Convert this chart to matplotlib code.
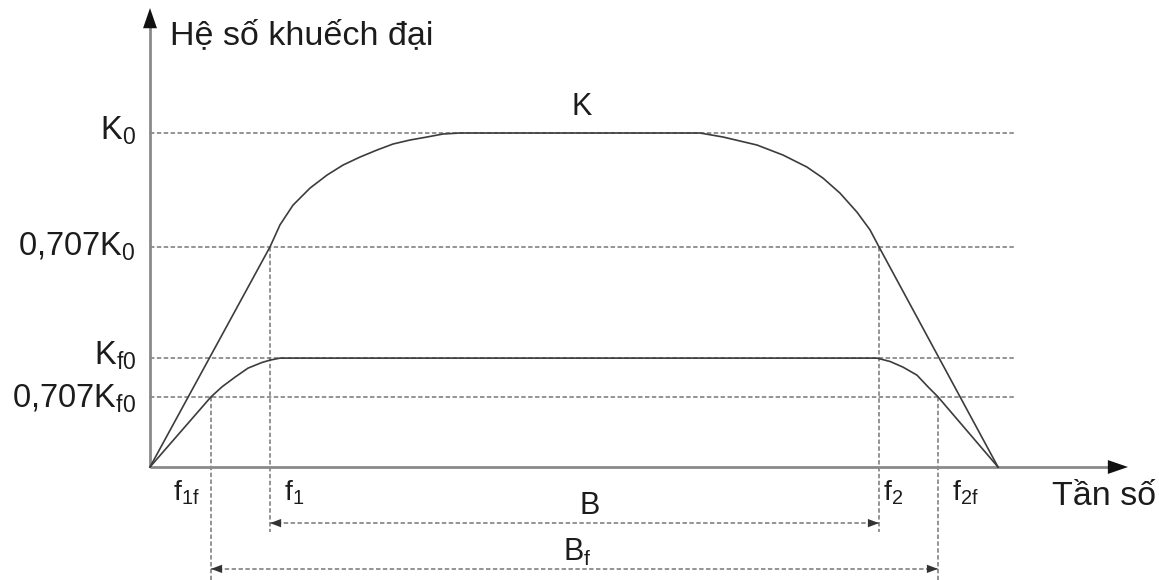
import matplotlib
matplotlib.use("Agg")
import matplotlib.pyplot as plt

plt.rcParams['font.family'] = ['Liberation Sans', 'DejaVu Sans']
plt.rcParams['mathtext.fontset'] = 'custom'
plt.rcParams['mathtext.rm'] = 'Liberation Sans'
plt.rcParams['mathtext.it'] = 'Liberation Sans'

# ---------------- data ----------------
# frequency marks (arbitrary units) and gain levels (K0 = 1)
freq_labels = [r'f$_{1f}$', r'f$_1$', r'f$_2$', r'f$_{2f}$']
freq_x = [0.61, 1.20, 7.29, 7.88]
f_end = 8.48

level_labels = [r'K$_0$', r'0,707K$_0$', r'K$_{f0}$', r'0,707K$_{f0}$']
level_y = [1.000, 0.659, 0.326, 0.210]

# response without feedback (K)
k_x = [0.00, 1.20, 1.30, 1.43, 1.60, 1.77, 1.93, 2.10, 2.27, 2.43, 2.60, 2.77,
       2.93, 3.10, 5.50, 5.73, 6.07, 6.33, 6.57, 6.73, 6.90, 7.07, 7.20, 7.29, 8.48]
k_y = [0.000, 0.659, 0.725, 0.784, 0.835, 0.874, 0.904, 0.928, 0.949, 0.967, 0.979, 0.988,
       0.997, 1.000, 1.000, 0.988, 0.964, 0.934, 0.898, 0.865, 0.820, 0.763, 0.710, 0.659, 0.000]

# response with feedback (Kf)
kf_x = [0.00, 0.61, 0.72, 0.85, 0.98, 1.12, 1.20, 1.30, 7.27, 7.40, 7.53, 7.67, 7.78, 7.88, 8.48]
kf_y = [0.000, 0.210, 0.240, 0.269, 0.296, 0.313, 0.320, 0.326, 0.326, 0.316, 0.299, 0.275,
        0.240, 0.210, 0.000]

# ---------------- figure ----------------
fig = plt.figure(figsize=(11.59, 5.80), dpi=100)
ax = fig.add_axes([0, 0, 1, 1])
ax.set_xlim(-1.50, 10.09)
ax.set_ylim(-0.3383, 1.3982)
ax.axis('off')

txt = '#1c1c1c'
dash_c = '#777777'
dash = (0, (2.9, 1.6))
curve_c = '#3c3c3c'
axis_c = '#8a8a8a'

y_top = 1.374
x_right = 9.78
row_B = -0.168
row_Bf = -0.305
y_bottom = -0.3383
dash_end = 8.65

# horizontal dashed level lines
for y in level_y:
    ax.plot([0, dash_end], [y, y], ls=dash, color=dash_c, lw=1.1, zorder=1)

# vertical dashed lines
ax.plot([freq_x[1], freq_x[1]], [level_y[1], row_B - 0.027], ls=dash, color=dash_c, lw=1.1, zorder=1)
ax.plot([freq_x[2], freq_x[2]], [level_y[1], row_B - 0.027], ls=dash, color=dash_c, lw=1.1, zorder=1)
ax.plot([freq_x[0], freq_x[0]], [level_y[3], y_bottom], ls=dash, color=dash_c, lw=1.1, zorder=1)
ax.plot([freq_x[3], freq_x[3]], [level_y[3], y_bottom], ls=dash, color=dash_c, lw=1.1, zorder=1)

# curves
ax.plot(k_x, k_y, color=curve_c, lw=1.2, zorder=3, solid_joinstyle='round')
ax.plot(kf_x, kf_y, color=curve_c, lw=1.2, zorder=3, solid_joinstyle='round')

# axes lines with arrowheads
ax.plot([0, 0], [0, y_top - 0.04], color=axis_c, lw=2.0, zorder=2, solid_capstyle='butt')
ax.plot([0, x_right - 0.1], [0, 0], color=axis_c, lw=2.0, zorder=2, solid_capstyle='butt')
head = dict(arrowstyle='-|>,head_length=1.45,head_width=0.5', color='#111111',
            lw=0, mutation_scale=10, shrinkA=0, shrinkB=0)
ax.annotate('', xy=(0, y_top), xytext=(0, y_top - 0.1), arrowprops=head, zorder=4)
ax.annotate('', xy=(x_right, 0), xytext=(x_right - 0.3, 0), arrowprops=head, zorder=4)

# bandwidth arrows
small_head = dict(arrowstyle='-|>,head_length=0.8,head_width=0.3', color='#333333',
                  lw=0, mutation_scale=10, shrinkA=0, shrinkB=0)
for (xa, xb, yr) in [(freq_x[1], freq_x[2], row_B), (freq_x[0], freq_x[3], row_Bf)]:
    ax.plot([xa, xb], [yr, yr], ls=dash, color=dash_c, lw=1.1, zorder=1)
    ax.annotate('', xy=(xa, yr), xytext=(xa + 0.2, yr), arrowprops=small_head)
    ax.annotate('', xy=(xb, yr), xytext=(xb - 0.2, yr), arrowprops=small_head)

ax.text((freq_x[1] + freq_x[2]) / 2 + 0.15, row_B + 0.05, 'B', fontsize=22, color=txt,
        ha='center', va='center')
ax.text((freq_x[0] + freq_x[3]) / 2 + 0.03, row_Bf + 0.05, r'B$_f$', fontsize=22, color=txt,
        ha='center', va='center')

# level labels
lvl_off = [-4.5, -6.5, -4.5, -8.0]
for lab, y, off in zip(level_labels, level_y, lvl_off):
    ax.annotate(lab, xy=(-0.14, y), xytext=(0, off), textcoords='offset points',
                fontsize=23.5, color=txt, ha='right', va='baseline')

# frequency labels
f_off = [-8.0, 10.0, 3.0, 10.0]
f_ha = ['right', 'left', 'left', 'left']
for lab, x, off, ha in zip(freq_labels, freq_x, f_off, f_ha):
    ax.annotate(lab, xy=(x, 0), xytext=(off, -24), textcoords='offset points',
                fontsize=20.5, color=txt, ha=ha, va='baseline')

ax.text(4.32, 1.078, 'K', fontsize=22, color=txt, ha='center', va='center')
ax.text(0.20, 1.266, 'Hệ số khuếch đại', fontsize=24.5, color=txt, ha='left', va='baseline')
ax.text(9.02, -0.114, 'Tần số', fontsize=24.5, color=txt, ha='left', va='baseline')

fig.savefig('out.png', dpi=100)
